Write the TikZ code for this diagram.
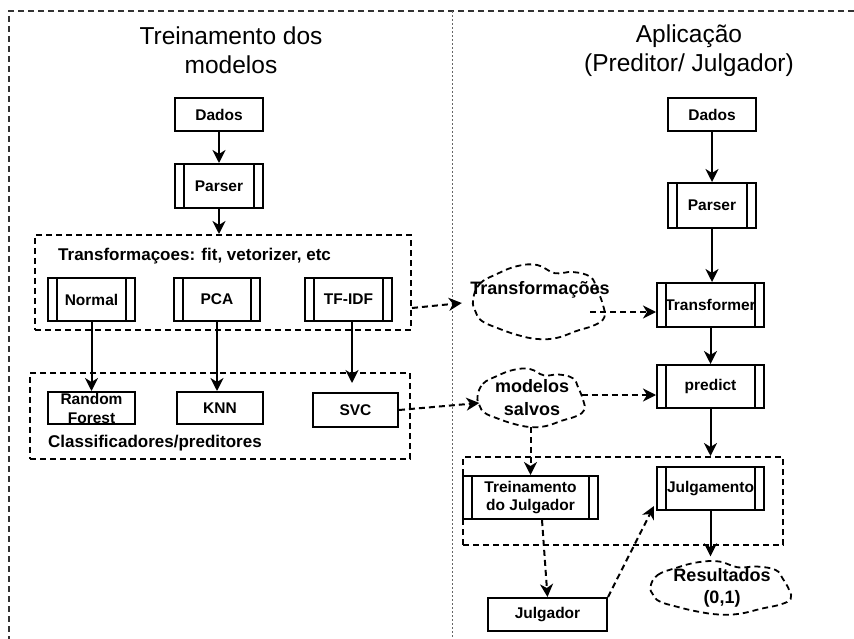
\documentclass[tikz,border=0pt]{standalone}
\usepackage{fontspec}
\setmainfont{Liberation Sans}
\usetikzlibrary{arrows.meta}
\begin{document}
\begin{tikzpicture}[x=1pt,y=-1pt,
  every node/.style={font=\fontsize{15.5}{18}\selectfont\bfseries, align=center, inner sep=0pt},
  plainbox/.style={draw, line width=2pt},
  procbox/.style={draw, line width=2pt, path picture={
    \draw[line width=2pt]
      ([xshift=9pt]path picture bounding box.north west) -- ([xshift=9pt]path picture bounding box.south west)
      ([xshift=-9pt]path picture bounding box.north east) -- ([xshift=-9pt]path picture bounding box.south east);}},
  groupbox/.style={draw, line width=2pt, dash pattern=on 6pt off 4pt},
  grouplabel/.style={anchor=west, font=\fontsize{17}{20}\selectfont\bfseries},
  cloudtext/.style={font=\fontsize{18}{23}\selectfont\bfseries},
  cloudline/.style={line width=1.8pt, dash pattern=on 6pt off 4pt},
  title/.style={font=\fontsize{24.5}{29}\selectfont},
  arr/.style={line width=2pt, -{Stealth[length=13pt,width=13pt,inset=4pt]}},
  darr/.style={arr, dash pattern=on 6pt off 4pt},
  frame/.style={line width=2pt, dash pattern=on 6pt off 4pt, black!80},
  divider/.style={line width=1pt, dash pattern=on 2pt off 2pt, black!60}]
\useasboundingbox (0,0) rectangle (854,639);

% lumpy outline used for the cloud shapes (unit half-width / half-height)
\def\cloudoutline{(-1.0,-0.05) (-0.9,-0.49) (-0.64,-0.76) (-0.34,-0.97) (-0.04,-1.0)
  (0.22,-0.78) (0.49,-0.81) (0.75,-0.68) (0.85,-0.35) (0.94,0.08) (0.96,0.41)
  (0.82,0.62) (0.55,0.78) (0.25,0.97) (-0.04,1.0) (-0.34,0.89) (-0.64,0.70)
  (-0.87,0.51) (-0.96,0.27)}

% outer frame and column divider
\draw[frame] (854,11) -- (9,11) -- (9,639);
\draw[divider] (452,11) -- (452,639);

% column titles
\node[title] (titleL) at (231,50.5) {Treinamento dos\\modelos};
\node[title] (titleR) at (689,50.5) {Aplicação\\(Preditor/ Julgador)};

% ---- training column ----
\node[plainbox, minimum width=88pt, minimum height=33pt] (dadosL) at (219,114.5) {Dados};
\node[procbox, minimum width=88pt, minimum height=44pt] (parserL) at (219,186) {Parser};

\node[groupbox, minimum width=376pt, minimum height=95pt] (transf) at (223,282.5) {};
\node[grouplabel] (tlabel) at (58,256) {Transformaçoes: fit, vetorizer, etc};
\node[procbox, minimum width=87pt, minimum height=43pt] (normal) at (91.5,299.5) {Normal};
\node[procbox, minimum width=86pt, minimum height=43pt] (pca) at (217,299.5) {PCA};
\node[procbox, minimum width=87pt, minimum height=43pt] (tfidf) at (348.5,299.5) {TF-IDF};

\node[groupbox, minimum width=380pt, minimum height=86pt] (classif) at (220,416) {};
\node[plainbox, minimum width=87pt, minimum height=32pt,
  font=\fontsize{15.5}{19}\selectfont\bfseries] (rf) at (91.5,408) {Random\\Forest};
\node[plainbox, minimum width=86pt, minimum height=32pt] (knn) at (220,408) {KNN};
\node[plainbox, minimum width=85pt, minimum height=34pt] (svc) at (355.5,410) {SVC};
\node[grouplabel] (clabel) at (48,443) {Classificadores/preditores};

% ---- application column ----
\node[plainbox, minimum width=88pt, minimum height=33pt] (dadosR) at (712,114.5) {Dados};
\node[procbox, minimum width=88pt, minimum height=45pt] (parserR) at (712,205.5) {Parser};
\node[procbox, minimum width=107pt, minimum height=44pt] (transformer) at (710.5,305) {Transformer};
\node[procbox, minimum width=107pt, minimum height=43pt] (predict) at (710.5,386.5) {predict};

% clouds: a text node of the cloud's size, with the lumpy outline drawn round it
\node[minimum width=134pt, minimum height=74pt,
  label={[yshift=12pt, cloudtext]center:Transformações}] (tcloud) at (540,302) {};
\draw[cloudline, shift={(tcloud.center)}, xscale=67, yscale=37]
  plot[smooth cycle, tension=0.7] coordinates {\cloudoutline};

\node[cloudtext, minimum width=109pt, minimum height=58pt] (mcloud) at (532,398) {modelos\\salvos};
\draw[cloudline, shift={(mcloud.center)}, xscale=54.5, yscale=29]
  plot[smooth cycle, tension=0.7] coordinates {\cloudoutline};

\node[groupbox, minimum width=320pt, minimum height=88pt] (judgegroup) at (623,501) {};
\node[procbox, minimum width=135pt, minimum height=43pt] (tj) at (530.5,497.5) {Treinamento\\do Julgador};
\node[procbox, minimum width=107pt, minimum height=43pt] (julgamento) at (710.5,488.5) {Julgamento};
\node[plainbox, minimum width=119pt, minimum height=33pt] (julgador) at (547.5,614.5) {Julgador};

\node[cloudtext, font=\fontsize{18}{22}\selectfont\bfseries,
  minimum width=143pt, minimum height=53pt] (rcloud) at (722,588) {Resultados\\(0,1)};
\draw[cloudline, shift={(rcloud.center)}, xscale=71.5, yscale=26.5]
  plot[smooth cycle, tension=0.7] coordinates {\cloudoutline};

% ---- connectors ----
\draw[arr] (dadosL) -- (parserL);
\draw[arr] (parserL) -- (parserL.south |- transf.north);
\draw[arr] (normal) -- (rf);
\draw[arr] (pca) -- (pca.south |- knn.north);
\draw[arr, shorten >=9pt] ([xshift=3.5pt]tfidf.south) -- ([xshift=3.5pt]tfidf.south |- svc.north);

\draw[darr] ([yshift=-25.5pt]transf.east) -- ([xshift=-11pt,yshift=-1pt]tcloud.west);
\draw[darr] ([xshift=-17pt,yshift=-10pt]tcloud.east) -- ([yshift=-7pt]transformer.west);
\draw[darr] (svc.east) -- ([xshift=2pt,yshift=-5pt]mcloud.west);
\draw[darr] ([xshift=-5pt,yshift=3pt]mcloud.east) -- ([yshift=-8.5pt]predict.west);

\draw[arr] (dadosR) -- (parserR);
\draw[arr] (parserR) -- (parserR.south |- transformer.north);
\draw[arr] (transformer) -- (predict);
\draw[arr] (predict) -- (predict.south |- judgegroup.north);
\draw[darr] (tj.north |- mcloud.south) -- (tj.north);
\draw[arr, shorten >=5pt] (julgamento) -- (julgamento.south |- rcloud.north);
\draw[darr] ([xshift=11.5pt]tj.south) -- (julgador.north);
\draw[darr] (julgador.north east) -- ([xshift=-2pt,yshift=5pt]julgamento.south west);
\end{tikzpicture}
\end{document}
